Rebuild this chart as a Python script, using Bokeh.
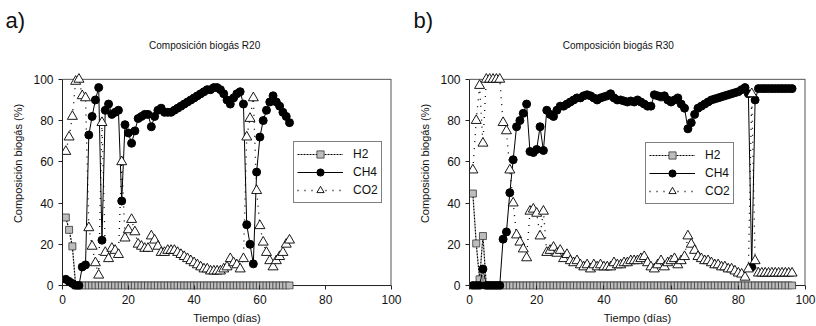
from bokeh.plotting import figure
from bokeh.models import Legend, LegendItem, FixedTicker, Title, Range1d, Span, Label
from bokeh.layouts import row
from bokeh.embed import file_html
from bokeh.resources import INLINE

FONT = "Liberation Sans"

# ---------------- R20 ----------------
days_a = list(range(1, 71))
h2_a = [33, 27, 19,
        0, 0, 0, 0, 0, 0, 0, 0, 0, 0, 0, 0, 0, 0, 0, 0, 0, 0, 0, 0, 0, 0, 0, 0, 0, 0, 0, 0, 0, 0, 0,
        0, 0, 0, 0, 0, 0, 0, 0, 0, 0, 0, 0, 0, 0, 0, 0, 0, 0, 0, 0, 0, 0, 0, 0, 0, 0, 0, 0, 0, 0, 0,
        0, 0, 0, 0]
ch4_a = [3, 2, 1, 0, 0, 9, 10, 73, 82, 90,
         96, 22, 85, 88, 83, 84, 85, 41, 78, 74,
         69, 75, 81, 82, 83, 83, 77, 82, 85, 86,
         84, 84, 84, 85, 86, 87, 88, 89, 90, 91,
         92, 93, 94, 95, 95, 96, 96, 95, 93, 90,
         88, 91, 93, 94, 88, 29.5, 20, 10.5, 55, 72,
         80, 85, 89, 92, 89, 87, 84, 82, 79]
co2_a = [65, 72, 82, 99, 100, 92, 91, 28, 19, 11,
         5, 79, 16, 13, 18, 17, 15, 60, 23, 27,
         32, 26, 20, 19, 18, 18, 24, 22, 19, 16,
         16, 17, 17, 17, 16, 15, 14, 13, 12, 11,
         10, 9, 8, 8, 7, 7, 7, 7, 8, 9,
         13, 11, 10, 8, 13, 72, 81, 91, 46, 29,
         21, 16, 12, 9, 12, 14, 16, 20, 22]

# ---------------- R30 ----------------
days_b = list(range(1, 97))
h2_b = [44.6, 20.4, 3, 24,
        0, 0, 0, 0, 0, 0, 0, 0, 0, 0, 0, 0, 0, 0, 0, 0, 0, 0, 0, 0, 0, 0, 0, 0, 0, 0, 0, 0, 0, 0,
        0, 0, 0, 0, 0, 0, 0, 0, 0, 0, 0, 0, 0, 0, 0, 0, 0, 0, 0, 0, 0, 0, 0, 0, 0, 0, 0, 0, 0, 0,
        0, 0, 0, 0, 0, 0, 0, 0, 0, 0, 0, 0, 0, 0, 0, 0, 0, 0, 0, 0, 0, 0, 0, 0, 0, 0, 0, 0, 0, 0,
        0, 0]
ch4_b = [0, 0, 0, 8, 0, 0, 0, 0, 0, 22.5,
         26, 45, 61, 77, 80, 83.5, 88, 65, 64.5, 66,
         77, 65.5, 85, 83, 82, 85, 87, 87, 88, 89,
         90, 91, 91, 92, 92.5, 92, 91, 90, 91, 91.5,
         92, 93, 91, 90, 90, 89.5, 89, 89.5, 89, 90,
         89, 88, 87, 87, 92.5, 92, 91.5, 92, 90, 89,
         90, 91, 88, 86, 76, 79, 83, 86, 87, 88,
         89, 90, 90.5, 91, 91.5, 92, 92.5, 93, 93.5, 94,
         95, 96, 93, 9, 90, 95.5, 95.5, 95.5, 95.5, 95.5,
         95.5, 95.5, 95.5, 95.5, 95.5, 95.5]
co2_b = [56, 80, 97, 69, 100, 100, 100, 100, 100, 79,
         75, 56, 40, 24.5, 21, 17.7, 13.4, 36, 37, 35,
         24, 36, 16, 17, 18.5, 15.6, 17, 13, 15, 12,
         11, 12, 10, 9, 10, 8, 10, 9, 10, 9,
         9, 9, 11, 10, 10, 11, 11, 12, 12, 12,
         13, 14, 11, 9, 8, 10, 12, 9, 11, 12,
         13, 10, 12, 14, 24, 20, 17, 14, 13, 12,
         12, 11, 10, 10, 9, 9, 8, 8, 7, 6,
         5.5, 4, 8, 93, 12, 6, 6, 6, 6, 6,
         6, 6, 6, 6, 6, 6]

x_ticks = [0, 20, 40, 60, 80, 100]
y_ticks = [0, 20, 40, 60, 80, 100]
labels = ["H2", "CH4", "CO2"]

# the frame reaches above the 0-100 box (title lives there) and a little under 0
Y_LOW = -1.93
Y_HIGH = 120.29
TITLE_Y = 116.4
AX = "#222222"


def make(days, h2, ch4, co2, title, tag, left, right, leg_loc, title_x):
    p = figure(width=408, height=326,
               min_border_left=left, min_border_right=right,
               min_border_top=36, min_border_bottom=37,
               x_range=Range1d(0, 100), y_range=Range1d(Y_LOW, Y_HIGH),
               output_backend="svg", toolbar_location=None)
    p.xgrid.visible = False
    p.ygrid.visible = False
    p.outline_line_color = None
    p.background_fill_color = "white"
    p.border_fill_color = "white"

    for ax, ticks in ((p.xaxis[0], x_ticks), (p.yaxis[0], y_ticks)):
        ax.ticker = FixedTicker(ticks=ticks)
        ax.minor_tick_line_color = None
        ax.major_tick_line_color = AX
        ax.major_label_text_font = FONT
        ax.major_label_text_font_size = "12px"
        ax.major_label_text_color = "#111111"
        ax.axis_label_text_font = FONT
        ax.axis_label_text_font_size = "11px"
        ax.axis_label_text_font_style = "normal"
        ax.axis_label_text_color = "#111111"
    # x axis: line drawn as a span at y = 0, ticks reach from it down to the frame edge
    p.xaxis.axis_line_color = None
    p.xaxis.major_tick_in = 4
    p.xaxis.major_tick_out = 0
    p.xaxis.major_label_standoff = 5
    p.xaxis.axis_label = "Tiempo (días)"
    p.xaxis.axis_label_standoff = 5
    p.yaxis.axis_line_color = AX
    p.yaxis.bounds = (0, 100)
    p.yaxis.major_tick_in = 0
    p.yaxis.major_tick_out = 4
    p.yaxis.major_label_standoff = 5
    p.yaxis.axis_label = "Composición biogás (%)"
    p.yaxis.axis_label_standoff = 6

    p.add_layout(Span(location=0, dimension="width", line_color=AX, line_width=1,
                      level="underlay"))
    # top and right border of the 0-100 box
    p.segment(x0=[0], y0=[100], x1=[100], y1=[100], line_color="#555555", line_width=1)
    p.segment(x0=[100], y0=[0], x1=[100], y1=[100], line_color="#555555", line_width=2)

    n_h2, n_ch4, n_co2 = len(h2), len(ch4), len(co2)
    l1 = p.line(days[:n_h2], h2, line_color="black", line_width=1.2, line_dash="2 1")
    s1 = p.scatter(days[:n_h2], h2, marker="square", size=7,
                   fill_color="#bdbdbd", line_color="#333333", line_width=0.8)
    l2 = p.line(days[:n_ch4], ch4, line_color="black", line_width=1)
    s2 = p.scatter(days[:n_ch4], ch4, marker="circle", size=8,
                   fill_color="black", line_color="black")
    l3 = p.line(days[:n_co2], co2, line_color="black", line_width=1.3, line_dash="1 6")
    s3 = p.scatter(days[:n_co2], co2, marker="triangle", size=10,
                   fill_color="white", line_color="black", line_width=0.9)

    legend = Legend(items=[LegendItem(label=labels[0], renderers=[l1, s1]),
                           LegendItem(label=labels[1], renderers=[l2, s2]),
                           LegendItem(label=labels[2], renderers=[l3, s3])],
                    location=leg_loc)
    legend.border_line_color = "black"
    legend.border_line_width = 1
    legend.background_fill_color = "white"
    legend.background_fill_alpha = 1
    legend.padding = 3
    legend.spacing = -4
    legend.margin = 0
    legend.glyph_width = 46
    legend.glyph_height = 18
    legend.label_height = 18
    legend.label_standoff = 10
    legend.label_text_font = FONT
    legend.label_text_font_size = "12px"
    legend.label_text_color = "#111111"
    p.add_layout(legend, "center")

    p.add_layout(Label(x=title_x, y=TITLE_Y, text=title, text_font=FONT,
                       text_font_size="10px", text_align="center",
                       text_baseline="middle", text_color="#111111"))
    tag_t = Title(text=tag, align="left", offset=5 - left,
                  text_font=FONT, text_font_size="22px", text_font_style="normal",
                  text_color="#111111", standoff=10)
    p.add_layout(tag_t, "above")
    return p


# legend location is measured from the bottom-left of the frame (frame bottom sits 4 px under y=0)
pa = make(days_a, h2_a, ch4_a, co2_a, "Composición biogás R20", "a)",
          62, 17, (231, 86), 43.2)
pb = make(days_b, h2_b, ch4_b, co2_b, "Composición biogás R30", "b)",
          61, 11, (176, 85), 44.3)

layout = row(pa, pb, spacing=0)
open("out.html", "w").write(file_html(layout, INLINE))
